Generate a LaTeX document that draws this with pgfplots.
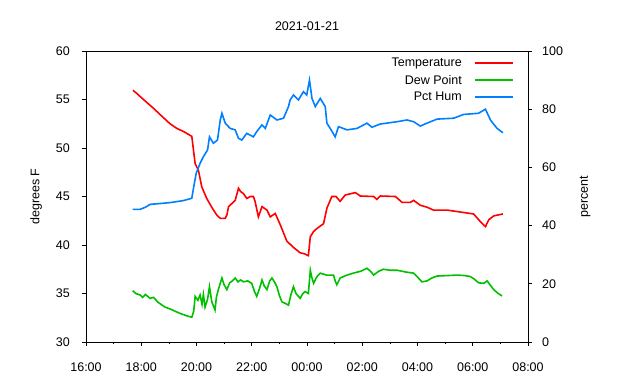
\documentclass[border=0pt]{standalone}
\usepackage{pgfplots}
\pgfplotsset{compat=1.18}
\usepackage{fontspec}
\setmainfont{Liberation Sans}
\definecolor{tempred}{RGB}{255,0,0}
\definecolor{dewgreen}{RGB}{0,192,0}
\definecolor{humblue}{RGB}{0,128,255}
\newcommand{\chartfont}{\fontsize{12.5bp}{15bp}\selectfont}
\begin{document}
\begin{tikzpicture}
\path[use as bounding box] (0,0) rectangle (640bp,380bp);
\pgfplotsset{
  every axis/.append style={
    scale only axis, width=442bp, height=291bp,
    at={(86bp,38bp)}, anchor=south west,
    xmin=16, xmax=32,
    tick align=outside,
    major tick length=4bp, minor tick length=2.5bp,
    tick style={black, line width=0.6bp},
    axis line style={line width=0.8bp},
    font=\chartfont,
    /pgf/number format/assume math mode=true,
    legend style={anchor=north east,
      draw=none, fill=none, font=\chartfont, row sep=3bp,
      /tikz/every odd column/.append style={column sep=10bp}},
    legend cell align=right,
    legend plot pos=right,
    legend image code/.code={\draw[#1, line width=2bp] (0bp,0bp) -- (38bp,0bp);},
  },
}
\begin{axis}[
  ymin=30, ymax=60,
  ytick={30,35,...,60},
  xtick={16,18,...,32},
  xticklabels={16:00,18:00,20:00,22:00,00:00,02:00,04:00,06:00,08:00},
  minor x tick num=1,
  xtick pos=bottom, ytick pos=left,
  yticklabel style={anchor=east, inner sep=0pt, xshift=-12bp},
  xticklabel style={anchor=base, inner sep=0pt, yshift=-25bp},
  ylabel={degrees F},
  ylabel style={at={(axis description cs:-0.113,0.5)}, anchor=center},
  legend style={at={(axis description cs:0.975,0.99)}},
  clip=false,
]
\addplot[color=tempred, line width=1.6bp] coordinates {
(17.70,55.95) (17.85,55.6) (18.00,55.2) (18.20,54.7) (18.44,54.1) (18.70,53.4)
(19.04,52.5) (19.30,52.0) (19.53,51.7) (19.83,51.2) (19.89,49.8) (19.95,48.4)
(20.07,47.7) (20.19,46.0) (20.37,44.8) (20.55,43.9) (20.73,43.1) (20.86,42.75)
(21.04,42.75) (21.10,43.1) (21.16,43.95) (21.40,44.6) (21.52,45.85) (21.60,45.5)
(21.70,45.3) (21.82,44.8) (21.95,45.0) (22.06,45.0) (22.12,44.5) (22.24,42.9)
(22.37,43.95) (22.45,43.8) (22.55,43.6) (22.67,42.9) (22.85,43.25) (23.03,42.1)
(23.27,40.4) (23.51,39.75) (23.75,39.2) (23.90,39.1) (24.05,38.9) (24.12,40.85)
(24.24,41.4) (24.36,41.7) (24.60,42.2) (24.72,43.8) (24.90,45.0) (25.05,45.0)
(25.20,44.5) (25.38,45.15) (25.75,45.4) (25.93,45.05) (26.41,45.0) (26.53,44.7)
(26.65,45.05) (27.20,45.0) (27.44,44.4) (27.74,44.4) (27.86,44.6) (28.10,44.1)
(28.34,43.9) (28.58,43.6) (29.07,43.6) (29.55,43.4) (30.03,43.2) (30.28,42.4)
(30.46,41.9) (30.58,42.6) (30.76,43.0) (31.09,43.2)
};
\addlegendentry{Temperature}
\addplot[color=dewgreen, line width=1.6bp] coordinates {
(17.69,35.3) (17.80,35.0) (17.96,34.85) (18.05,34.6) (18.15,34.9) (18.32,34.5)
(18.45,34.6) (18.60,34.1) (18.86,33.6) (19.05,33.4) (19.28,33.1) (19.45,32.9)
(19.65,32.7) (19.83,32.55) (19.90,33.2) (19.95,34.7) (20.05,34.3) (20.13,34.85)
(20.20,33.9) (20.25,34.9) (20.31,33.6) (20.40,34.4) (20.47,35.7) (20.55,34.2)
(20.60,33.8) (20.67,33.3) (20.72,34.6) (20.79,35.4) (20.92,36.6) (21.00,35.9)
(21.10,35.4) (21.20,36.1) (21.30,36.3) (21.40,36.6) (21.50,36.2) (21.60,36.4)
(21.70,36.2) (21.85,36.3) (22.00,36.05) (22.10,35.2) (22.18,34.7) (22.28,35.5)
(22.37,36.4) (22.45,35.8) (22.55,35.4) (22.65,36.3) (22.73,36.6) (22.82,36.2)
(22.91,35.7) (23.00,34.8) (23.09,34.15) (23.20,34.0) (23.33,33.8) (23.42,34.9)
(23.51,35.7) (23.60,35.0) (23.75,34.5) (23.85,35.0) (23.93,35.2) (24.05,35.0)
(24.12,37.4) (24.18,36.6) (24.24,36.05) (24.35,36.7) (24.48,37.1) (24.70,36.9)
(24.96,36.9) (25.02,36.3) (25.08,35.9) (25.20,36.6) (25.45,36.9) (25.68,37.1)
(25.95,37.3) (26.17,37.6) (26.30,37.3) (26.41,36.9) (26.60,37.3) (26.77,37.5)
(27.00,37.4) (27.26,37.4) (27.60,37.2) (27.86,37.1) (28.00,36.7) (28.16,36.2)
(28.35,36.3) (28.52,36.6) (28.71,36.8) (29.10,36.85) (29.43,36.9) (29.70,36.85)
(29.91,36.75) (30.05,36.5) (30.21,36.1) (30.40,36.05) (30.52,36.3) (30.65,35.8)
(30.76,35.4) (30.92,35.0) (31.06,34.75)
};
\addlegendentry{Dew Point}
\node[font=\chartfont, anchor=center] at (axis description cs:0.5,1.085) {2021-01-21};
\end{axis}
\begin{axis}[
  ymin=0, ymax=100,
  ytick={0,20,...,100},
  xtick=\empty,
  axis x line=none,
  axis y line*=right,
  ytick pos=right,
  yticklabel style={anchor=west, inner sep=0pt, xshift=10bp},
  ylabel={percent},
  ylabel style={at={(axis description cs:1.129,0.5)}, anchor=center},
  legend style={at={(axis description cs:0.975,0.873)}},
]
\addplot[color=humblue, line width=1.6bp] coordinates {
(17.69,45.6) (17.96,45.6) (18.15,46.3) (18.32,47.3) (18.70,47.6) (19.04,47.9)
(19.53,48.6) (19.83,49.4) (19.89,52.8) (19.99,58.0) (20.13,61.4) (20.25,63.7)
(20.40,66.0) (20.47,70.5) (20.61,68.3) (20.76,69.4) (20.86,76.3) (20.92,78.6)
(21.04,75.2) (21.22,73.4) (21.40,72.9) (21.52,70.0) (21.64,69.4) (21.82,71.7)
(22.06,70.5) (22.18,72.3) (22.37,74.6) (22.49,73.4) (22.67,78.0) (22.91,76.3)
(23.15,76.9) (23.33,80.9) (23.39,83.2) (23.51,84.9) (23.69,83.2) (23.87,86.0)
(23.99,84.9) (24.09,90.0) (24.18,83.7) (24.30,80.9) (24.48,83.7) (24.66,80.9)
(24.72,75.2) (24.84,73.4) (25.02,70.5) (25.14,74.0) (25.45,72.9) (25.81,73.4)
(26.17,75.2) (26.35,73.8) (26.65,74.9) (27.26,75.7) (27.62,76.3) (27.86,75.7)
(28.10,74.2) (28.34,75.2) (28.71,76.6) (29.31,76.9) (29.67,78.2) (30.21,78.6)
(30.46,80.0) (30.64,76.3) (30.88,73.4) (31.09,71.9)
};
\addlegendentry{Pct Hum}
\end{axis}
\end{tikzpicture}
\end{document}
